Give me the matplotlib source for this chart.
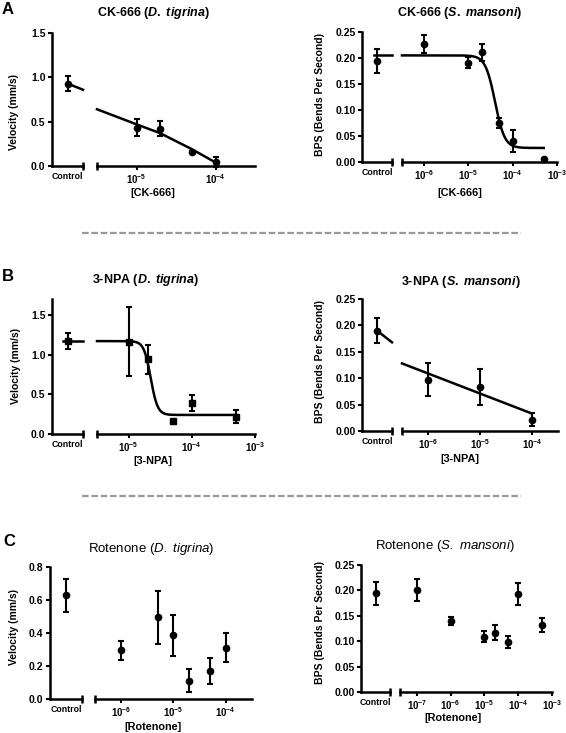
import numpy as np
import matplotlib
matplotlib.use('Agg')
import matplotlib.pyplot as plt
from matplotlib.lines import Line2D

plt.rcParams['font.family'] = ['Liberation Sans', 'DejaVu Sans']
plt.rcParams['font.weight'] = 'bold'
plt.rcParams['mathtext.fontset'] = 'custom'
plt.rcParams['mathtext.rm'] = 'Liberation Sans:weight=bold'
plt.rcParams['mathtext.bf'] = 'Liberation Sans:weight=bold'
plt.rcParams['mathtext.it'] = 'Liberation Sans:style=italic:weight=bold'
plt.rcParams['mathtext.sf'] = 'Liberation Sans:style=italic:weight=normal'
plt.rcParams['axes.unicode_minus'] = True

W, H = 566, 733

# ---------------- DATA ----------------
# A: CK-666
a1_ctrl_mean, a1_ctrl_err = 0.93, 0.08
a1_conc = [1e-5, 2e-5, 5e-5, 1e-4]
a1_mean = [0.43, 0.42, 0.16, 0.045]
a1_err = [0.095, 0.085, 0.012, 0.055]
a1_fit_logx = [-5.5, -5.0, -4.7, -4.3, -4.0]
a1_fit_y = [0.64, 0.47, 0.37, 0.19, 0.04]
a1_ctrl_fit = [0.93, 0.86]

a2_ctrl_mean, a2_ctrl_err = 0.195, 0.023
a2_conc = [1e-6, 1e-5, 2e-5, 5e-5, 1e-4, 5e-4]
a2_mean = [0.227, 0.191, 0.211, 0.075, 0.041, 0.005]
a2_err = [0.018, 0.011, 0.016, 0.010, 0.021, 0.002]
a2_hill = dict(top=0.205, bottom=0.027, logec50=-4.4, slope=4.0)
a2_fit_range = (-6.5, -3.3)

# B: 3-NPA
b1_ctrl_mean, b1_ctrl_err = 1.17, 0.105
b1_conc = [1e-5, 2e-5, 5e-5, 1e-4, 5e-4]
b1_mean = [1.16, 0.94, 0.164, 0.39, 0.22]
b1_err = [0.435, 0.18, 0.01, 0.095, 0.08]
b1_hill = dict(top=1.17, bottom=0.24, logec50=-4.65, slope=8.0)
b1_fit_range = (-5.5, -3.3)

b2_ctrl_mean, b2_ctrl_err = 0.190, 0.024
b2_conc = [1e-6, 1e-5, 1e-4]
b2_mean = [0.097, 0.083, 0.0215]
b2_err = [0.031, 0.034, 0.012]
b2_fit_logx = [-6.5, -4.0]
b2_fit_y = [0.128, 0.033]
b2_ctrl_fit = [0.19, 0.168]

# C: Rotenone
c1_ctrl_mean, c1_ctrl_err = 0.63, 0.10
c1_conc = [1e-6, 5e-6, 1e-5, 2e-5, 5e-5, 1e-4]
c1_mean = [0.294, 0.496, 0.385, 0.11, 0.171, 0.312]
c1_err = [0.056, 0.16, 0.125, 0.07, 0.08, 0.085]

c2_ctrl_mean, c2_ctrl_err = 0.194, 0.0225
c2_conc = [1e-7, 1e-6, 1e-5, 2e-5, 5e-5, 1e-4, 5e-4]
c2_mean = [0.201, 0.140, 0.109, 0.117, 0.098, 0.193, 0.132]
c2_err = [0.021, 0.008, 0.0105, 0.014, 0.0115, 0.022, 0.013]

# ---------------- STYLE ----------------
LW = 1.8
fig = plt.figure(figsize=(W / 100, H / 100), dpi=100)


def px_axes(x0, x1, ytop, ybot):
    return fig.add_axes([x0 / W, 1 - ybot / H, (x1 - x0) / W, (ybot - ytop) / H])


def ftext(x, y, s, **kw):
    kw.setdefault('ha', 'center')
    kw.setdefault('va', 'center')
    fig.text(x / W, 1 - y / H, s, **kw)


def hill(logx, top, bottom, logec50, slope):
    return bottom + (top - bottom) / (1 + 10 ** ((logx - logec50) * slope))


def panel(ctrl_px, dose_px, ypx, ylim, yticks, yfmt, xlim_exp, xticks_exp,
          ctrl_mean, ctrl_err, conc, mean, err, marker='o'):
    axc = px_axes(ctrl_px[0], ctrl_px[1], ypx[0], ypx[1])
    axd = px_axes(dose_px[0], dose_px[1], ypx[0], ypx[1])
    for ax in (axc, axd):
        ax.set_ylim(*ylim)
        ax.patch.set_alpha(0)
        for s in ('top', 'right'):
            ax.spines[s].set_visible(False)
        for s in ('left', 'bottom'):
            ax.spines[s].set_linewidth(LW)
        ax.tick_params(direction='out', length=3.2, width=1.5, labelsize=7.5, pad=1.5)
    # control axes
    axc.set_xlim(0, 1)
    axc.set_yticks(yticks)
    axc.set_yticklabels([yfmt % v for v in yticks])
    axc.set_xticks([0.5])
    axc.set_xticklabels(['Control'], fontsize=6.3)
    axc.tick_params(axis='x', length=0, pad=4)
    axc.plot([1], [0], marker='|', ms=6, mew=LW, color='k',
             transform=axc.transAxes, clip_on=False)
    # dose axes
    axd.spines['left'].set_visible(False)
    axd.set_xscale('log')
    axd.set_xlim(10.0 ** xlim_exp[0], 10.0 ** xlim_exp[1])
    axd.set_xticks([10.0 ** e for e in xticks_exp])
    axd.set_xticklabels([r'$10^{%d}$' % e for e in xticks_exp], fontsize=7)
    axd.xaxis.set_minor_locator(matplotlib.ticker.NullLocator())
    axd.set_yticks([])
    axd.plot([0], [0], marker='|', ms=6, mew=LW, color='k',
             transform=axd.transAxes, clip_on=False)
    # data
    ekw = dict(fmt=marker, color='k', ms=4.5, elinewidth=1.5, capsize=2.5,
               capthick=1.5, clip_on=False, zorder=3)
    axc.errorbar([0.5], [ctrl_mean], yerr=[ctrl_err], **ekw)
    axd.errorbar(conc, mean, yerr=err, **ekw)
    return axc, axd


# ---- A left ----
axc, axd = panel((52, 83), (97, 255), (33, 166), (0, 1.5), [0, 0.5, 1.0, 1.5], '%.1f',
                 (-5.5, -3.5), [-5, -4], a1_ctrl_mean, a1_ctrl_err, a1_conc, a1_mean, a1_err)
axd.plot(10.0 ** np.array(a1_fit_logx), a1_fit_y, color='k', lw=LW, clip_on=False)
axc.plot([0.5, 1.0], a1_ctrl_fit, color='k', lw=LW, clip_on=False)

# ---- A right ----
axc, axd = panel((362, 392), (402, 557), (32, 162), (0, 0.25),
                 [0, 0.05, 0.10, 0.15, 0.20, 0.25], '%.2f',
                 (-6.5, -3), [-6, -5, -4, -3], a2_ctrl_mean, a2_ctrl_err, a2_conc, a2_mean, a2_err)
lx = np.linspace(a2_fit_range[0], a2_fit_range[1], 300)
axd.plot(10.0 ** lx, hill(lx, **a2_hill), color='k', lw=LW, clip_on=False)
axc.plot([0.4, 1.0], [a2_hill['top']] * 2, color='k', lw=LW, clip_on=False)

# ---- B left ----
axc, axd = panel((52, 83), (97, 255), (299, 434), (0, 1.7), [0, 0.5, 1.0, 1.5], '%.1f',
                 (-5.5, -3), [-5, -4, -3], b1_ctrl_mean, b1_ctrl_err, b1_conc, b1_mean, b1_err,
                 marker='s')
lx = np.linspace(b1_fit_range[0], b1_fit_range[1], 300)
axd.plot(10.0 ** lx, hill(lx, **b1_hill), color='k', lw=LW, clip_on=False)
axc.plot([0.35, 1.0], [b1_hill['top']] * 2, color='k', lw=LW, clip_on=False)

# ---- B right ----
axc, axd = panel((362, 392), (402, 558), (299, 431), (0, 0.25),
                 [0, 0.05, 0.10, 0.15, 0.20, 0.25], '%.2f',
                 (-6.5, -3.5), [-6, -5, -4], b2_ctrl_mean, b2_ctrl_err, b2_conc, b2_mean, b2_err)
axd.plot(10.0 ** np.array(b2_fit_logx), b2_fit_y, color='k', lw=LW, clip_on=False)
axc.plot([0.5, 1.0], b2_ctrl_fit, color='k', lw=LW, clip_on=False)

# ---- C left ----
panel((50, 82), (95, 252), (567, 699), (0, 0.8), [0, 0.2, 0.4, 0.6, 0.8], '%.1f',
      (-6.5, -3.5), [-6, -5, -4], c1_ctrl_mean, c1_ctrl_err, c1_conc, c1_mean, c1_err)

# ---- C right ----
panel((361, 390), (400, 552), (565, 692), (0, 0.25),
      [0, 0.05, 0.10, 0.15, 0.20, 0.25], '%.2f',
      (-7.5, -3), [-7, -6, -5, -4, -3], c2_ctrl_mean, c2_ctrl_err, c2_conc, c2_mean, c2_err)

# ---------------- TEXT ----------------
TS = 9
ftext(153, 13, r'CK-666 ($\mathit{D.}$ $\mathit{tigrina}$)', fontsize=TS, fontweight='bold')
ftext(460, 13, r'CK-666 ($\mathit{S.}$ $\mathit{mansoni}$)', fontsize=TS, fontweight='bold')
ftext(146, 280, r'3-NPA ($\mathit{D.}$ $\mathit{tigrina}$)', fontsize=TS, fontweight='bold')
ftext(461, 282, r'3-NPA ($\mathit{S.}$ $\mathit{mansoni}$)', fontsize=TS, fontweight='bold')
ftext(151, 549, r'Rotenone ($\mathsf{D.}$ $\mathsf{tigrina}$)', fontsize=9.5, fontweight='normal')
ftext(445, 546, r'Rotenone ($\mathsf{S.}$ $\mathsf{mansoni}$)', fontsize=9.5, fontweight='normal')

YS = 7.5
ftext(14, 112, 'Velocity (mm/s)', rotation=90, fontsize=YS)
ftext(320, 94, 'BPS (Bends Per Second)', rotation=90, fontsize=YS)
ftext(16, 366, 'Velocity (mm/s)', rotation=90, fontsize=YS)
ftext(320, 362, 'BPS (Bends Per Second)', rotation=90, fontsize=YS)
ftext(14, 627, 'Velocity (mm/s)', rotation=90, fontsize=YS)
ftext(320, 622, 'BPS (Bends Per Second)', rotation=90, fontsize=YS)

XS = 7.8
ftext(153, 193, '[CK-666]', fontsize=XS)
ftext(460, 193, '[CK-666]', fontsize=XS)
ftext(153, 461, '[3-NPA]', fontsize=XS)
ftext(460, 459, '[3-NPA]', fontsize=XS)
ftext(153, 727, '[Rotenone]', fontsize=XS)
ftext(453, 718, '[Rotenone]', fontsize=XS)

ftext(8, 10, 'A', fontsize=12, fontweight='bold')
ftext(8, 277, 'B', fontsize=12, fontweight='bold')
ftext(9, 541, 'C', fontsize=12, fontweight='bold')

# dashed separators
for yy in (233, 496):
    fig.add_artist(Line2D([82 / W, 521 / W], [1 - yy / H, 1 - yy / H], color='#9a9a9a',
                          lw=1.6, linestyle=(0, (3, 1.2))))

fig.savefig('out.png', dpi=100)
